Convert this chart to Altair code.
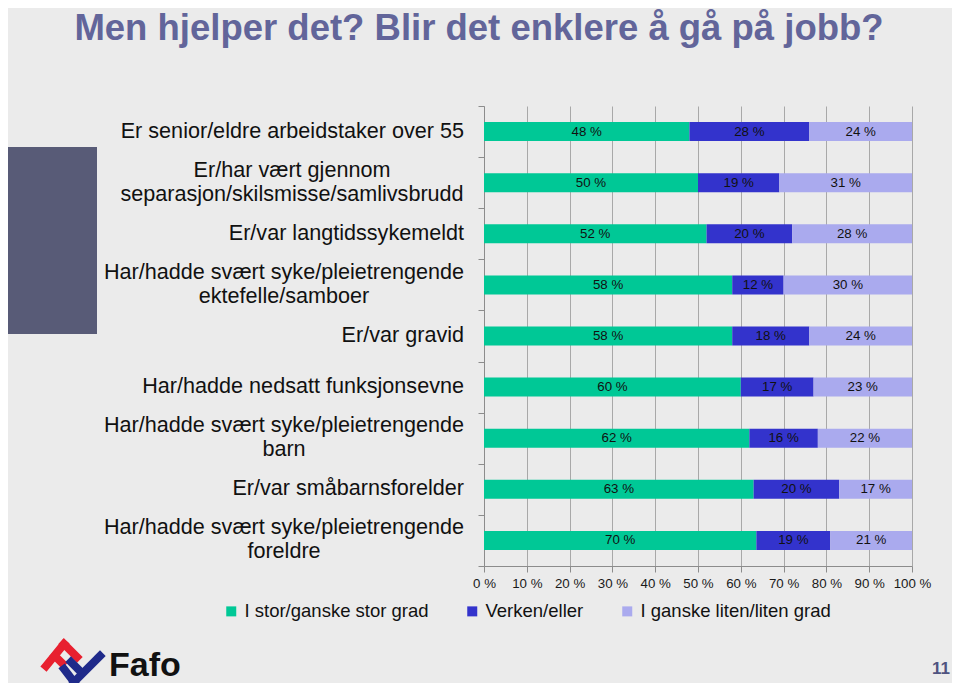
import altair as alt
import pandas as pd

# ---- data ----
categories = [
    "Er senior/eldre arbeidstaker over 55",
    "Er/har vært gjennom\nseparasjon/skilsmisse/samlivsbrudd",
    "Er/var langtidssykemeldt",
    "Har/hadde svært syke/pleietrengende\nektefelle/samboer",
    "Er/var gravid",
    "Har/hadde nedsatt funksjonsevne",
    "Har/hadde svært syke/pleietrengende\nbarn",
    "Er/var småbarnsforelder",
    "Har/hadde svært syke/pleietrengende\nforeldre",
]
groups = ["I stor/ganske stor grad", "Verken/eller", "I ganske liten/liten grad"]
stor = [48, 50, 52, 58, 58, 60, 62, 63, 70]
verken = [28, 19, 20, 12, 18, 17, 16, 20, 19]
liten = [24, 31, 28, 30, 24, 23, 22, 17, 21]
x_ticks = [0, 0.1, 0.2, 0.3, 0.4, 0.5, 0.6, 0.7, 0.8, 0.9, 1.0]

title_text = "Men hjelper det? Blir det enklere å gå på jobb?"
page_no = "11"
logo_text = "Fafo"

colors = ["#00c896", "#3333cc", "#aaaaee"]
FONT = "Liberation Sans"
YFS = 21.6

rows = []
for i, c in enumerate(categories):
    for o, (g, vals) in enumerate(zip(groups, [stor, verken, liten])):
        rows.append({"cat": c, "group": g, "value": vals[i], "order": o})
df = pd.DataFrame(rows)
cat_df = pd.DataFrame({"cat": categories})
one = pd.DataFrame({"k": [0]})

# plot origin on page = (484, 106)
OX, OY = 484, 106
def px(x):
    return x - OX
def py(y):
    return y - OY

ysc = alt.Scale(paddingInner=0, paddingOuter=0)
ysort = categories

stacked = (
    alt.Chart(df)
    .transform_stack(stack="value", groupby=["cat"], sort=[alt.SortField("order")],
                     offset="normalize", as_=["v0", "v1"])
    .transform_calculate(mid="(datum.v0 + datum.v1) / 2", lab="datum.value + ' %'")
)

bars = stacked.mark_bar(size=19).encode(
    x=alt.X("v0:Q", scale=alt.Scale(domain=[0, 1], nice=False),
            axis=alt.Axis(values=x_ticks, labelExpr="round(datum.value * 100) + ' %'",
                          title=None, grid=True, gridColor="#a8a8a8", gridWidth=1,
                          domainColor="#8c8c8c", tickColor="#8c8c8c", tickSize=6,
                          labelFont=FONT, labelFontSize=13.3, labelColor="#1a1a1a",
                          labelPadding=4, labelOverlap=False, labelFlush=False)),
    x2="v1:Q",
    y=alt.Y("cat:N", sort=ysort, scale=ysc,
            axis=alt.Axis(labels=False, title=None, tickBand="extent", grid=False,
                          domainColor="#8c8c8c", tickColor="#8c8c8c", tickSize=6)),
    color=alt.Color("group:N", scale=alt.Scale(domain=groups, range=colors),
                    legend=alt.Legend(orient="none", legendX=px(222), legendY=py(602),
                                      direction="horizontal", title=None,
                                      symbolType="square", symbolSize=100,
                                      symbolStrokeWidth=0, labelFont=FONT,
                                      labelFontSize=18.5, labelColor="#111",
                                      labelOffset=4, columnPadding=34, padding=0,
                                      labelLimit=0)),
    order=alt.Order("order:Q"),
)

bar_labels = stacked.mark_text(font=FONT, fontSize=13.3, color="#111", baseline="middle").encode(
    x=alt.X("mid:Q"),
    y=alt.Y("cat:N", sort=ysort, scale=ysc),
    text="lab:N",
)

single = alt.Chart(cat_df).transform_filter("indexof(datum.cat, '\\n') < 0").mark_text(
    font=FONT, fontSize=YFS, color="#111", align="right", baseline="middle"
).encode(y=alt.Y("cat:N", sort=ysort, scale=ysc), text="cat:N", x=alt.value(-20))

multi_a = alt.Chart(cat_df).transform_filter(
    "indexof(datum.cat, '\\n') >= 0 && indexof(datum.cat, 'separasjon') >= 0").mark_text(
    font=FONT, fontSize=YFS, color="#111", align="center", baseline="middle",
    lineBreak="\n", lineHeight=24, dy=-12
).encode(y=alt.Y("cat:N", sort=ysort, scale=ysc), text="cat:N", x=alt.value(px(292)))

multi_b = alt.Chart(cat_df).transform_filter(
    "indexof(datum.cat, '\\n') >= 0 && indexof(datum.cat, 'separasjon') < 0").mark_text(
    font=FONT, fontSize=YFS, color="#111", align="center", baseline="middle",
    lineBreak="\n", lineHeight=24, dy=-12
).encode(y=alt.Y("cat:N", sort=ysort, scale=ysc), text="cat:N", x=alt.value(px(284)))

title = alt.Chart(one).mark_text(
    font=FONT, fontSize=36.5, fontWeight="bold", color="#62659a", align="center",
    baseline="alphabetic").encode(x=alt.value(px(479)), y=alt.value(py(40)),
                                  text=alt.value(title_text))

side_rect = alt.Chart(one).mark_rect(color="#585b77").encode(
    x=alt.value(px(0)), x2=alt.value(px(97)), y=alt.value(py(147)), y2=alt.value(py(334)))

page_num = alt.Chart(one).mark_text(
    font=FONT, fontSize=17, fontWeight="bold", color="#4f5380", align="right",
    baseline="middle").encode(x=alt.value(px(950)), y=alt.value(py(669)),
                              text=alt.value(page_no))

logo_word = alt.Chart(one).mark_text(
    font=FONT, fontSize=34, fontWeight="bold", color="#111", align="left",
    baseline="alphabetic").encode(x=alt.value(px(109)), y=alt.value(py(676)),
                                  text=alt.value(logo_text))

def stroke(x1, y1, x2, y2, col):
    return alt.Chart(one).mark_rule(color=col, strokeWidth=8, strokeCap="square").encode(
        x=alt.value(px(x1)), y=alt.value(py(y1)), x2=alt.value(px(x2)), y2=alt.value(py(y2)))

RED, NAVY = "#e8202f", "#1f2a8a"
logo = [
    stroke(46, 666, 64, 644, RED),
    stroke(64, 644, 77, 657, RED),
    stroke(55, 656, 62, 663, RED),
    stroke(64, 669, 74, 682, NAVY),
    stroke(74, 682, 100, 656, NAVY),
    stroke(71, 662, 79, 670, NAVY),
]

chart = alt.layer(
    side_rect, bars, bar_labels, single, multi_a, multi_b, title, page_num, logo_word, *logo
).properties(
    width=428, height=460,
    autosize=alt.AutoSizeParams(type="none"),
    padding={"left": 476, "top": 98, "right": 40, "bottom": 117},
    background="#ebebeb",
).configure_view(stroke=None)

chart.save("out.html", embed_options={"renderer": "svg", "actions": False})
